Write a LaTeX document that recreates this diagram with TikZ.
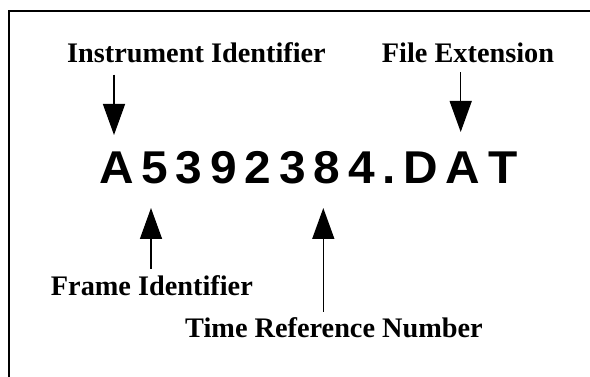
\documentclass[tikz,border=0pt]{standalone}
\usepackage{fontspec}
\setmainfont{Liberation Serif}
\newfontfamily\namefont[FakeStretch=1.04,LetterSpace=17,Kerning=Off]{Liberation Sans}
\usetikzlibrary{arrows.meta}
\begin{document}
\begin{tikzpicture}[x=1pt,y=-1pt,
  partname/.style={inner sep=0pt,anchor=base west,font=\fontsize{28.3}{30}\selectfont\bfseries},
  arrowline/.style={line width=1.5pt,-{Triangle[length=31pt,width=22pt]}}]
\useasboundingbox (0,0) rectangle (590,377);

% frame
\draw[line width=1.2pt] (9,377) -- (9,11) -- (590,11);

\node[inner sep=0pt,anchor=base west,font=\namefont\bfseries\fontsize{46}{48}\selectfont] (fname) at (99,183.3) {A5392384.DAT};

\node[partname] (instr) at (67,63) {Instrument Identifier};
\node[partname] (fext) at (381.7,63) {File Extension};
\node[partname] (frame) at (50.7,296) {Frame Identifier};
\node[partname] (tref) at (185,337.7) {Time Reference Number};

\coordinate (tipA) at (114,135);
\coordinate (tipB) at (460.7,132);
\coordinate (tipC) at (151,208);
\coordinate (tipD) at (323.3,208);

\draw[arrowline,shorten <=11pt] (instr.south -| tipA) -- (tipA);
\draw[arrowline,shorten <=9pt] (fext.south -| tipB) -- (tipB);
\draw[arrowline,shorten <=7pt] (frame.north -| tipC) -- (tipC);
\draw[arrowline,shorten <=6pt] (tref.north -| tipD) -- (tipD);

\end{tikzpicture}
\end{document}
